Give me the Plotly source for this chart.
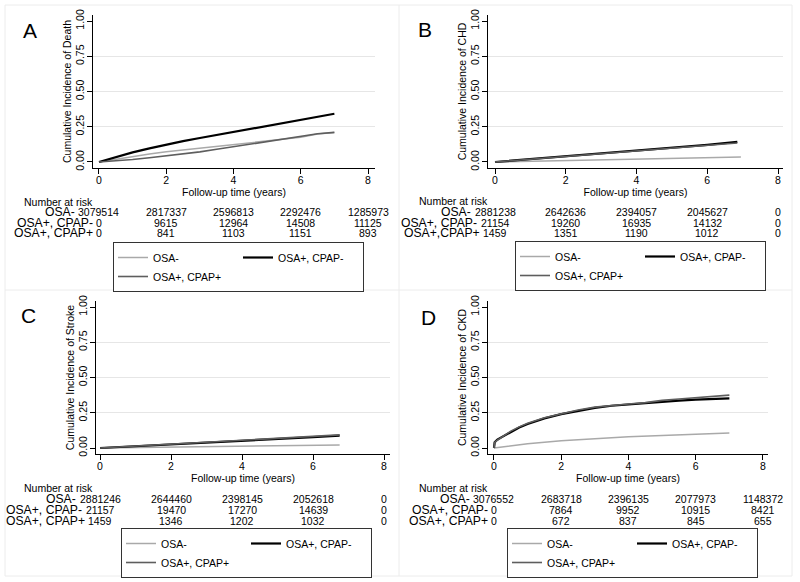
import plotly.graph_objects as go

W, H = 800, 582

# ---------------- data ----------------
series_names = ["OSA-", "OSA+, CPAP-", "OSA+, CPAP+"]
risk_times = [0, 2, 4, 6, 8]

# Panel A: Death
a_t = [0, 0.5, 1, 1.5, 2, 2.5, 3, 3.5, 4, 4.5, 5, 5.5, 6, 6.5, 7]
a_osa_neg = [0, 0.02, 0.038, 0.056, 0.072, 0.085, 0.097, 0.108, 0.12, 0.134, 0.148, 0.161, 0.175, 0.198, 0.21]
a_cpap_neg = [0, 0.036, 0.068, 0.097, 0.124, 0.148, 0.17, 0.191, 0.212, 0.232, 0.253, 0.275, 0.298, 0.32, 0.342]
a_cpap_pos = [0, 0.008, 0.018, 0.03, 0.043, 0.058, 0.072, 0.09, 0.108, 0.126, 0.144, 0.162, 0.178, 0.2, 0.21]
a_risk_osa_neg = [3079514, 2817337, 2596813, 2292476, 1285973]
a_risk_cpap_neg = [0, 9615, 12964, 14508, 11125]
a_risk_cpap_pos = [0, 841, 1103, 1151, 893]

# Panel B: CHD
b_t = [0, 1, 2, 3, 4, 5, 6, 6.85]
b_t_osa = [0, 1, 2, 3, 4, 5, 6, 6.95]
b_osa_neg = [0, 0.005, 0.01, 0.015, 0.02, 0.025, 0.03, 0.036]
b_cpap_neg = [0, 0.02, 0.04, 0.06, 0.08, 0.10, 0.122, 0.143]
b_cpap_pos = [0, 0.019, 0.038, 0.057, 0.077, 0.097, 0.117, 0.135]
b_risk_osa_neg = [2881238, 2642636, 2394057, 2045627, 0]
b_risk_cpap_neg = [21154, 19260, 16935, 14132, 0]
b_risk_cpap_pos = [1459, 1351, 1190, 1012, 0]

# Panel C: Stroke
c_t = [0, 1, 2, 3, 4, 5, 6, 6.75]
c_osa_neg = [0, 0.003, 0.006, 0.009, 0.012, 0.015, 0.019, 0.022]
c_cpap_neg = [0, 0.012, 0.025, 0.037, 0.05, 0.063, 0.077, 0.088]
c_cpap_pos = [0, 0.013, 0.027, 0.04, 0.053, 0.067, 0.082, 0.093]
c_risk_osa_neg = [2881246, 2644460, 2398145, 2052618, 0]
c_risk_cpap_neg = [21157, 19470, 17270, 14639, 0]
c_risk_cpap_pos = [1459, 1346, 1202, 1032, 0]

# Panel D: CKD
d_t = [0, 0.02, 0.1, 0.25, 0.5, 0.75, 1, 1.5, 2, 2.5, 3, 3.5, 4, 4.5, 5, 5.5, 6, 6.5, 7]
d_t_osa = [0, 1, 2, 3, 4, 5, 6, 7]
d_osa_neg = [0, 0.03, 0.051, 0.066, 0.079, 0.089, 0.098, 0.106]
d_cpap_neg = [0, 0.04, 0.06, 0.08, 0.115, 0.145, 0.17, 0.21, 0.24, 0.265, 0.285, 0.30, 0.31, 0.32, 0.328, 0.336, 0.343, 0.348, 0.352]
d_cpap_pos = [0, 0.04, 0.055, 0.08, 0.12, 0.15, 0.175, 0.215, 0.245, 0.27, 0.29, 0.303, 0.312, 0.322, 0.338, 0.348, 0.358, 0.368, 0.375]
d_risk_osa_neg = [3076552, 2683718, 2396135, 2077973, 1148372]
d_risk_cpap_neg = [0, 7864, 9952, 10915, 8421]
d_risk_cpap_pos = [0, 672, 837, 845, 655]


def px(x):
    return x / W


def py(y):
    return 1 - y / H


# ---------------- layout config ----------------
FONT = "Liberation Sans, Arial, Helvetica, sans-serif"
colors = ["#a9a9a9", "#000000", "#5e5e5e"]
widths = [1.5, 2.2, 1.6]
groups = ["g1", "g2", "g1"]

panels = [
    dict(letter="A", ytitle="Cumulative Incidence of Death",
         curves=[(a_t, a_osa_neg), (a_t, a_cpap_neg), (a_t, a_cpap_pos)],
         risk=[a_risk_osa_neg, a_risk_cpap_neg, a_risk_cpap_pos],
         labels=series_names,
         dx=(93, 375), dy=(15, 168), xr=(-0.178, 8.208), yr=(-0.0426, 1.0426),
         letter_xy=(30, 30), nar=(22, 202), rows_y=(212, 223, 233), leg=(113, 242)),
    dict(letter="B", ytitle="Cumulative Incidence of CHD",
         curves=[(b_t_osa, b_osa_neg), (b_t, b_cpap_neg), (b_t, b_cpap_pos)],
         risk=[b_risk_osa_neg, b_risk_cpap_neg, b_risk_cpap_pos],
         labels=["OSA-", "OSA+, CPAP-", "OSA+,CPAP+"],
         dx=(488, 783), dy=(15, 168), xr=(-0.198, 8.141), yr=(-0.0426, 1.0426),
         letter_xy=(425, 29), nar=(417, 201), rows_y=(212, 223, 233), leg=(515, 241)),
    dict(letter="C", ytitle="Cumulative Incidence of Stroke",
         curves=[(c_t, c_osa_neg), (c_t, c_cpap_neg), (c_t, c_cpap_pos)],
         risk=[c_risk_osa_neg, c_risk_cpap_neg, c_risk_cpap_pos],
         labels=series_names,
         dx=(96, 390), dy=(301, 454), xr=(-0.113, 8.169), yr=(-0.0426, 1.043),
         letter_xy=(29, 315), nar=(22, 488), rows_y=(499, 510, 521), leg=(121, 528)),
    dict(letter="D", ytitle="Cumulative Incidence of CKD",
         curves=[(d_t_osa, d_osa_neg), (d_t, d_cpap_neg), (d_t, d_cpap_pos)],
         risk=[d_risk_osa_neg, d_risk_cpap_neg, d_risk_cpap_pos],
         labels=series_names,
         dx=(488, 768), dy=(301, 454), xr=(-0.178, 8.149), yr=(-0.0426, 1.043),
         letter_xy=(428, 317), nar=(417, 488), rows_y=(499, 510, 521), leg=(507, 528)),
]

fig = go.Figure()
annotations = []
layout_axes = {}
legends = {}

for i, p in enumerate(panels):
    n = i + 1
    sfx = "" if n == 1 else str(n)
    xref, yref = "x" + sfx, "y" + sfx
    legname = "legend" + sfx

    for k, (tt, vv) in enumerate(p["curves"]):
        fig.add_trace(go.Scatter(
            x=tt, y=vv, mode="lines", name=series_names[k],
            line=dict(color=colors[k], width=widths[k]),
            xaxis=xref, yaxis=yref, legend=legname,
            legendgroup=f"{groups[k]}_{n}", showlegend=True,
            hoverinfo="skip"))

    layout_axes["xaxis" + sfx] = dict(
        domain=[px(p["dx"][0]), px(p["dx"][1])], range=list(p["xr"]),
        anchor=yref, tickvals=risk_times, ticks="outside", ticklen=5,
        tickcolor="black", showline=True, linecolor="black", linewidth=1,
        showgrid=False, zeroline=False, tickfont=dict(size=10.5), automargin=False,
        ticklabelstandoff=-3,
        title=dict(text="Follow-up time (years)", font=dict(size=10.5), standoff=0))
    layout_axes["yaxis" + sfx] = dict(
        domain=[py(p["dy"][1]), py(p["dy"][0])], range=list(p["yr"]),
        anchor=xref, tickvals=[0, 0.25, 0.5, 0.75, 1],
        ticktext=["0.00", "0.25", "0.50", "0.75", "1.00"], tickangle=-90,
        ticks="outside", ticklen=5, tickcolor="black", showline=True,
        linecolor="black", linewidth=1, showgrid=False, zeroline=False,
        tickfont=dict(size=10.5), automargin=False, ticklabelstandoff=-1,
        minor=dict(tickvals=[0.25, 0.5, 0.75], showgrid=True, gridcolor="#e6e6e6",
                   gridwidth=1, ticklen=0),
        title=dict(text=p["ytitle"], font=dict(size=10.5), standoff=0))

    legends[legname] = dict(
        x=px(p["leg"][0]), y=py(p["leg"][1]), xanchor="left", yanchor="top",
        orientation="h", traceorder="grouped", tracegroupgap=0,
        bordercolor="#333333", borderwidth=1, bgcolor="white",
        font=dict(size=10.5), entrywidth=80, itemwidth=30)

    # panel letter
    annotations.append(dict(text=p["letter"], x=px(p["letter_xy"][0]),
                            y=py(p["letter_xy"][1]), xref="paper", yref="paper",
                            xanchor="center", yanchor="middle", showarrow=False,
                            font=dict(size=21)))
    # number at risk
    annotations.append(dict(text="Number at risk", x=px(p["nar"][0]),
                            y=py(p["nar"][1]), xref="paper", yref="paper",
                            xanchor="left", yanchor="middle", showarrow=False,
                            font=dict(size=10.5)))
    for r, row in enumerate(p["risk"]):
        ry = py(p["rows_y"][r])
        for tval, cnt in zip(risk_times, row):
            annotations.append(dict(text=str(cnt), x=tval, y=ry, xref=xref, yref="paper",
                                    xanchor="center", yanchor="middle", showarrow=False,
                                    borderpad=0, font=dict(size=10.5)))
        first_w = len(str(row[0])) * 5.84
        annotations.append(dict(text=p["labels"][r], x=0, y=ry, xref=xref, yref="paper",
                                xanchor="right", yanchor="middle", showarrow=False,
                                borderpad=0, xshift=-(first_w / 2 + 2.5),
                                font=dict(size=12.2)))

sep = "#ececec"
shapes = [
    dict(type="rect", xref="paper", yref="paper", x0=px(5), x1=px(792),
         y0=py(576), y1=py(5), line=dict(color=sep, width=1), layer="below"),
    dict(type="line", xref="paper", yref="paper", x0=px(399), x1=px(399),
         y0=py(576), y1=py(5), line=dict(color=sep, width=1), layer="below"),
    dict(type="line", xref="paper", yref="paper", x0=px(5), x1=px(792),
         y0=py(290), y1=py(290), line=dict(color=sep, width=1), layer="below"),
]

fig.update_layout(
    width=W, height=H, margin=dict(l=0, r=0, t=0, b=0, autoexpand=False),
    paper_bgcolor="white", plot_bgcolor="white",
    font=dict(family=FONT, color="black", size=10.5),
    annotations=annotations, shapes=shapes, **layout_axes, **legends)

# remove the browser's default 8px body margin so the 800x582 figure fills the window
fig.write_html("out.html", config={"displayModeBar": False},
               post_script="document.body.style.margin='0';document.body.style.overflow='hidden';")
